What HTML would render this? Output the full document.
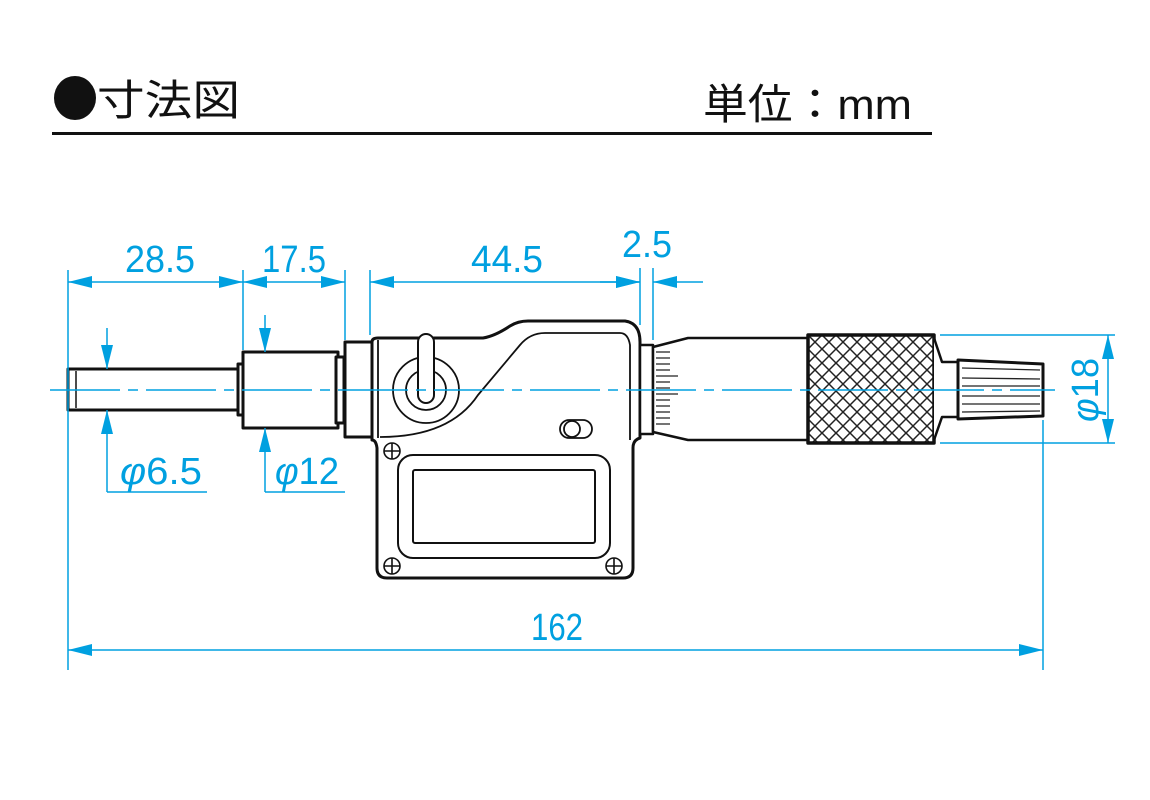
<!DOCTYPE html>
<html><head><meta charset="utf-8"><style>
html,body{margin:0;padding:0;background:#fff;}
svg{display:block;}
.d{font-family:"Liberation Sans",sans-serif;fill:#00a0e0;}
</style></head><body>
<svg width="1150" height="800" viewBox="0 0 1150 800" xmlns="http://www.w3.org/2000/svg">
<defs>
<pattern id="kn" width="14" height="14" patternUnits="userSpaceOnUse" x="808" y="335">
<path d="M0 0L14 14M14 0L0 14" stroke="#222" stroke-width="1.5"/>
</pattern>
<marker id="a" viewBox="0 0 24 12" refX="24" refY="6" markerWidth="24" markerHeight="12" markerUnits="userSpaceOnUse" orient="auto-start-reverse"><path d="M0 0L24 6L0 12z" fill="#00a0e0"/></marker>
</defs>
<!-- header -->
<ellipse cx="75" cy="98" rx="21" ry="22" fill="#111"/>
<text x="97" y="115" font-family="'Liberation Sans','Noto Sans CJK JP',sans-serif" font-size="42" fill="#111" textLength="143" lengthAdjust="spacingAndGlyphs">寸法図</text>
<text x="703" y="119" font-family="'Liberation Sans','Noto Sans CJK JP',sans-serif" font-size="42" fill="#111" textLength="209" lengthAdjust="spacingAndGlyphs">単位：mm</text>
<rect x="52" y="132" width="880" height="3" fill="#111"/>

<!-- drawing -->
<g fill="#fff" stroke="#111" stroke-width="3" stroke-linejoin="round">
<rect x="68" y="369" width="172" height="41"/>
<line x1="76" y1="371" x2="76" y2="408" stroke-width="1.5"/>
<rect x="238" y="364" width="6" height="51"/>
<rect x="243" y="352" width="95" height="76"/>
<rect x="336" y="357" width="8" height="66"/>
<rect x="345" y="342" width="27" height="95"/>
<path d="M372 342 Q372 338 378 338 L483 338 Q495 336 510 326 Q518 321 528 321 L625 321 Q640 323 640 342 L640 438 Q633 440 633 448 L633 568 Q633 578 623 578 L387 578 Q377 578 377 568 L377 448 Q376 440 372 440 Z"/>
<path d="M380 437 Q450 437 478 395 L520 345 Q530 333 545 333 L620 333 Q628 333 630 345 L630 440" fill="none" stroke-width="1.8"/>
<line x1="378" y1="340" x2="378" y2="438" stroke-width="1.8"/>
<rect x="398" y="455" width="212" height="103" rx="15" stroke-width="2"/>
<rect x="413" y="470" width="182" height="73" rx="2" stroke-width="2"/>
<circle cx="426" cy="390" r="33" stroke-width="1.8"/>
<circle cx="426" cy="390" r="20" stroke-width="1.8"/>
<rect x="418" y="334" width="16" height="69" rx="8" stroke-width="2"/>
<rect x="560" y="420" width="32" height="18" rx="9" stroke-width="1.8"/>
<circle cx="572" cy="429" r="8" stroke-width="1.8"/>
<g stroke-width="1.6">
<circle cx="392" cy="451" r="8"/><path d="M384 451H400M392 443V459"/>
<circle cx="392" cy="566" r="8"/><path d="M384 566H400M392 558V574"/>
<circle cx="614" cy="566" r="8"/><path d="M606 566H622M614 558V574"/>
</g>
<rect x="640" y="345" width="13" height="89" stroke-width="2.5"/>
<path d="M653 347 L688 338 L808 338 L808 440 L688 440 L653 432 Z" stroke-width="2.5"/>
<rect x="808" y="335" width="126" height="108" fill="url(#kn)" stroke-width="3.5"/>
<path d="M934 338 L942 362 L958 362 L958 417 L942 417 L934 440" stroke-width="2.5"/>
<path d="M958 360 L1043 364 L1043 416 L958 419 Z" stroke-width="3"/>
</g>
<g stroke="#222" stroke-width="1.3">
<path d="M656 352h14M656 358h14M656 364h14M656 370h14M656 376h22M656 382h14M656 388h14M656 394h22M656 400h14M656 406h14M656 412h14M656 418h14M656 424h14"/>
<path d="M962 368l78 2M962 378l78 1M962 386h78M962 396h78M962 404h78M962 412l78 -1"/>
</g>

<g stroke="#00a0e0" stroke-width="1.5" fill="none">
<line x1="50" y1="390" x2="1055" y2="390" stroke-dasharray="70 8 10 8"/>
<line x1="68" y1="270" x2="68" y2="670"/>
<line x1="243" y1="270" x2="243" y2="350"/>
<line x1="345" y1="270" x2="345" y2="340"/>
<line x1="370" y1="270" x2="370" y2="335"/>
<line x1="640" y1="268" x2="640" y2="325"/>
<line x1="653" y1="268" x2="653" y2="340"/>
<line x1="68" y1="282" x2="243" y2="282" marker-start="url(#a)" marker-end="url(#a)"/>
<line x1="243" y1="282" x2="345" y2="282" marker-start="url(#a)" marker-end="url(#a)"/>
<line x1="370" y1="282" x2="640" y2="282" marker-start="url(#a)" marker-end="url(#a)"/>
<line x1="600" y1="282" x2="640" y2="282" marker-end="url(#a)"/>
<line x1="703" y1="282" x2="653" y2="282" marker-end="url(#a)"/>
<line x1="107" y1="328" x2="107" y2="369" marker-end="url(#a)"/>
<line x1="107" y1="492" x2="107" y2="410" marker-end="url(#a)"/>
<line x1="107" y1="492" x2="207" y2="492"/>
<line x1="265" y1="315" x2="265" y2="352" marker-end="url(#a)"/>
<line x1="265" y1="492" x2="265" y2="428" marker-end="url(#a)"/>
<line x1="265" y1="492" x2="345" y2="492"/>
<line x1="940" y1="335" x2="1115" y2="335"/>
<line x1="940" y1="443" x2="1115" y2="443"/>
<line x1="1108" y1="335" x2="1108" y2="443" marker-start="url(#a)" marker-end="url(#a)"/>
<line x1="1043" y1="420" x2="1043" y2="670"/>
<line x1="68" y1="650" x2="1043" y2="650" marker-start="url(#a)" marker-end="url(#a)"/>
</g>
<g class="d" font-size="38">
<text x="125" y="272" textLength="70" lengthAdjust="spacingAndGlyphs">28.5</text>
<text x="262" y="272" textLength="64" lengthAdjust="spacingAndGlyphs">17.5</text>
<text x="471" y="272" textLength="72" lengthAdjust="spacingAndGlyphs">44.5</text>
<text x="622" y="257" textLength="50" lengthAdjust="spacingAndGlyphs">2.5</text>
<text x="120" y="484" textLength="82" lengthAdjust="spacingAndGlyphs"><tspan font-style="italic">φ</tspan>6.5</text>
<text x="275" y="484" textLength="64" lengthAdjust="spacingAndGlyphs"><tspan font-style="italic">φ</tspan>12</text>
<text x="531" y="640" textLength="52" lengthAdjust="spacingAndGlyphs">162</text>
<text transform="translate(1098,422) rotate(-90)" textLength="64" lengthAdjust="spacingAndGlyphs"><tspan font-style="italic">φ</tspan>18</text>
</g>
</svg>
</body></html>
